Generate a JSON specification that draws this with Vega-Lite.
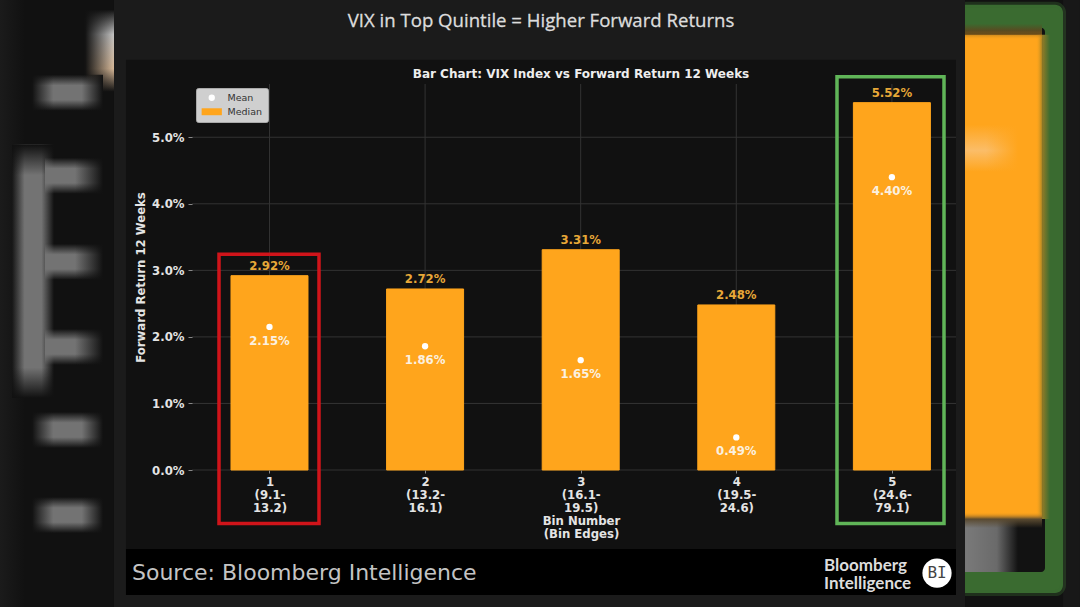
{
  "$schema": "https://vega.github.io/schema/vega-lite/v6.json",
  "autosize": {"type": "none"},
  "padding": {"left": 192, "top": 84, "right": 124, "bottom": 137},
  "width": 764,
  "height": 386,
  "background": "#111111",
  "data": {"name": "annotation"},
  "datasets": {
    "annotation": [{"note": "decoration"}],
    "vix": [
      {"bin": 1, "statistic": "Median", "value": 0.0292},
      {"bin": 2, "statistic": "Median", "value": 0.0272},
      {"bin": 3, "statistic": "Median", "value": 0.0331},
      {"bin": 4, "statistic": "Median", "value": 0.0248},
      {"bin": 5, "statistic": "Median", "value": 0.0552},
      {"bin": 1, "statistic": "Mean", "value": 0.0215},
      {"bin": 2, "statistic": "Mean", "value": 0.0186},
      {"bin": 3, "statistic": "Mean", "value": 0.0165},
      {"bin": 4, "statistic": "Mean", "value": 0.0049},
      {"bin": 5, "statistic": "Mean", "value": 0.044}
    ],
    "yticks": [{"tick": 0}, {"tick": 0.01}, {"tick": 0.02}, {"tick": 0.03}, {"tick": 0.04}, {"tick": 0.05}]
  },
  "layer": [
    {
      "mark": {"type": "rect", "color": {"gradient": "linear", "x1": 0, "y1": 0, "x2": 1, "y2": 0, "stops": [{"offset": 0, "color": "#1b1b1b"}, {"offset": 1, "color": "#111111"}]}},
      "encoding": {
        "x": {"datum": -0.732, "scale": {"domain": [0.502, 5.412], "nice": false, "zero": false, "padding": 0}},
        "x2": {"datum": -0.572},
        "y": {"datum": 0.07068, "scale": {"domain": [0, 0.058], "nice": false, "zero": false}},
        "y2": {"datum": -0.0206}
      }
    },
    {
      "mark": {"type": "rect", "color": "#181818"},
      "encoding": {"x": {"datum": 6.0997}, "x2": {"datum": 6.2089}, "y": {"datum": 0.07068}, "y2": {"datum": -0.0206}}
    },
    {
      "mark": {"type": "rect", "color": "#3a6b30", "cornerRadius": 8, "stroke": "#3a6b30", "strokeWidth": 6, "strokeOpacity": 0.35},
      "encoding": {"x": {"datum": 5.3}, "x2": {"datum": 6.0997}, "y": {"datum": 0.06992}, "y2": {"datum": -0.0185}}
    },
    {
      "mark": {"type": "rect", "color": "#121212", "cornerRadius": 4},
      "encoding": {"x": {"datum": 5.3}, "x2": {"datum": 5.984}, "y": {"datum": 0.06647}, "y2": {"datum": -0.01534}}
    },
    {
      "mark": {"type": "rect", "color": "#ffa51c"},
      "encoding": {"x": {"datum": 5.3}, "x2": {"datum": 5.9647}, "y": {"datum": 0.06541}, "y2": {"datum": -0.00737}}
    },
    {
      "mark": {"type": "rect", "color": {"gradient": "linear", "x1": 0, "y1": 0, "x2": 0, "y2": 1, "stops": [{"offset": 0, "color": "rgba(251,189,104,0)"}, {"offset": 0.55, "color": "#fbbd68"}, {"offset": 1, "color": "rgba(251,189,104,0)"}]}},
      "encoding": {"x": {"datum": 5.4699}, "x2": {"datum": 5.8105}, "y": {"datum": 0.05188}, "y2": {"datum": 0.04481}}
    },
    {
      "mark": {"type": "rect", "color": {"gradient": "linear", "x1": 0, "y1": 0, "x2": 1, "y2": 0, "stops": [{"offset": 0.4, "color": "rgba(255,165,28,0)"}, {"offset": 1, "color": "#ffa51c"}]}},
      "encoding": {"x": {"datum": 5.4699}, "x2": {"datum": 5.8105}, "y": {"datum": 0.05188}, "y2": {"datum": 0.04481}}
    },
    {
      "mark": {"type": "rect", "color": {"gradient": "linear", "x1": 0, "y1": 0, "x2": 1, "y2": 0, "stops": [{"offset": 0, "color": "#7a7a7a"}, {"offset": 0.6, "color": "#6a6a6a"}, {"offset": 1, "color": "#121212"}]}},
      "encoding": {"x": {"datum": 5.4699}, "x2": {"datum": 5.8105}, "y": {"datum": -0.00737}, "y2": {"datum": -0.01534}}
    },
    {
      "mark": {"type": "rect", "color": {"gradient": "linear", "x1": 0, "y1": 0, "x2": 1, "y2": 0, "stops": [{"offset": 0, "color": "rgba(255,165,28,0)"}, {"offset": 0.5, "color": "#8a7a28"}, {"offset": 1, "color": "#3a6b30"}]}},
      "encoding": {"x": {"datum": 5.9262}, "x2": {"datum": 6.0161}, "y": {"datum": 0.06541}, "y2": {"datum": -0.00737}}
    },
    {
      "mark": {"type": "rect", "color": {"gradient": "linear", "x1": 0, "y1": 0, "x2": 0, "y2": 1, "stops": [{"offset": 0, "color": "#3a6b30"}, {"offset": 0.45, "color": "#5a4a20"}, {"offset": 1, "color": "rgba(255,165,28,0)"}]}},
      "encoding": {"x": {"datum": 5.4699}, "x2": {"datum": 5.9647}, "y": {"datum": 0.06707}, "y2": {"datum": 0.06466}}
    },
    {
      "mark": {"type": "rect", "color": {"gradient": "linear", "x1": 0, "y1": 0, "x2": 0, "y2": 1, "stops": [{"offset": 0, "color": "rgba(255,165,28,0)"}, {"offset": 0.44, "color": "#5a4a30"}, {"offset": 1, "color": "rgba(90,74,48,0)"}]}},
      "encoding": {"x": {"datum": 5.4699}, "x2": {"datum": 5.9647}, "y": {"datum": -0.00632}, "y2": {"datum": -0.00872}}
    },
    {
      "mark": {"type": "rect", "color": {"gradient": "linear", "x1": 0, "y1": 0, "x2": 0, "y2": 1, "stops": [{"offset": 0, "color": "#111111"}, {"offset": 0.3, "color": "#c4c4c4"}, {"offset": 0.72, "color": "#d8b998"}, {"offset": 1, "color": "#111111"}]}},
      "encoding": {"x": {"datum": -0.1857}, "x2": {"datum": 0.1871}, "y": {"datum": 0.06917}, "y2": {"datum": 0.05684}}
    },
    {
      "mark": {"type": "rect", "color": {"gradient": "linear", "x1": 0, "y1": 0, "x2": 1, "y2": 0, "stops": [{"offset": 0, "color": "#111111"}, {"offset": 0.5, "color": "rgba(17,17,17,0)"}]}},
      "encoding": {"x": {"datum": -0.1857}, "x2": {"datum": 0.1871}, "y": {"datum": 0.06917}, "y2": {"datum": 0.05684}}
    },
    {
      "mark": {"type": "rect", "color": {"gradient": "linear", "x1": 0, "y1": 0, "x2": 1, "y2": 0, "stops": [{"offset": 0, "color": "rgba(115,115,115,0)"}, {"offset": 0.3, "color": "#737373"}, {"offset": 0.7, "color": "#737373"}, {"offset": 1, "color": "rgba(115,115,115,0)"}]}},
      "encoding": {"x": {"datum": -0.6548}, "x2": {"datum": -0.3849}, "y": {"datum": 0.04887}, "y2": {"datum": 0.01083}}
    },
    {
      "mark": {"type": "rect", "color": {"gradient": "linear", "x1": 0, "y1": 0, "x2": 0, "y2": 1, "stops": [{"offset": 0, "color": "#111111"}, {"offset": 0.12, "color": "rgba(17,17,17,0)"}, {"offset": 0.88, "color": "rgba(17,17,17,0)"}, {"offset": 1, "color": "#111111"}]}},
      "encoding": {"x": {"datum": -0.6548}, "x2": {"datum": -0.3849}, "y": {"datum": 0.04887}, "y2": {"datum": 0.01083}}
    },
    {
      "mark": {"type": "rect", "color": {"gradient": "linear", "x1": 0, "y1": 0, "x2": 0, "y2": 1, "stops": [{"offset": 0, "color": "rgba(115,115,115,0)"}, {"offset": 0.3, "color": "#737373"}, {"offset": 0.7, "color": "#737373"}, {"offset": 1, "color": "rgba(115,115,115,0)"}]}},
      "encoding": {"x": {"datum": -0.5263}, "x2": {"datum": -0.07}, "y": {"datum": 0.0594}, "y2": {"datum": 0.05398}}
    },
    {
      "mark": {"type": "rect", "color": {"gradient": "linear", "x1": 0, "y1": 0, "x2": 1, "y2": 0, "stops": [{"offset": 0, "color": "#111111"}, {"offset": 0.3, "color": "rgba(17,17,17,0)"}, {"offset": 0.7, "color": "rgba(17,17,17,0)"}, {"offset": 1, "color": "#111111"}]}},
      "encoding": {"x": {"datum": -0.5263}, "x2": {"datum": -0.07}, "y": {"datum": 0.0594}, "y2": {"datum": 0.05398}}
    },
    {
      "mark": {"type": "rect", "color": {"gradient": "linear", "x1": 0, "y1": 0, "x2": 0, "y2": 1, "stops": [{"offset": 0, "color": "rgba(115,115,115,0)"}, {"offset": 0.3, "color": "#737373"}, {"offset": 0.7, "color": "#737373"}, {"offset": 1, "color": "rgba(115,115,115,0)"}]}},
      "encoding": {"x": {"datum": -0.4427}, "x2": {"datum": -0.07}, "y": {"datum": 0.04692}, "y2": {"datum": 0.0415}}
    },
    {
      "mark": {"type": "rect", "color": {"gradient": "linear", "x1": 0, "y1": 0, "x2": 1, "y2": 0, "stops": [{"offset": 0, "color": "rgba(17,17,17,0)"}, {"offset": 1, "color": "#111111"}]}},
      "encoding": {"x": {"datum": -0.2499}, "x2": {"datum": -0.07}, "y": {"datum": 0.04692}, "y2": {"datum": 0.0415}}
    },
    {
      "mark": {"type": "rect", "color": {"gradient": "linear", "x1": 0, "y1": 0, "x2": 0, "y2": 1, "stops": [{"offset": 0, "color": "rgba(115,115,115,0)"}, {"offset": 0.3, "color": "#737373"}, {"offset": 0.7, "color": "#737373"}, {"offset": 1, "color": "rgba(115,115,115,0)"}]}},
      "encoding": {"x": {"datum": -0.4427}, "x2": {"datum": -0.07}, "y": {"datum": 0.03398}, "y2": {"datum": 0.02857}}
    },
    {
      "mark": {"type": "rect", "color": {"gradient": "linear", "x1": 0, "y1": 0, "x2": 1, "y2": 0, "stops": [{"offset": 0, "color": "rgba(17,17,17,0)"}, {"offset": 1, "color": "#111111"}]}},
      "encoding": {"x": {"datum": -0.2499}, "x2": {"datum": -0.07}, "y": {"datum": 0.03398}, "y2": {"datum": 0.02857}}
    },
    {
      "mark": {"type": "rect", "color": {"gradient": "linear", "x1": 0, "y1": 0, "x2": 0, "y2": 1, "stops": [{"offset": 0, "color": "rgba(115,115,115,0)"}, {"offset": 0.3, "color": "#737373"}, {"offset": 0.7, "color": "#737373"}, {"offset": 1, "color": "rgba(115,115,115,0)"}]}},
      "encoding": {"x": {"datum": -0.4427}, "x2": {"datum": -0.07}, "y": {"datum": 0.0212}, "y2": {"datum": 0.01579}}
    },
    {
      "mark": {"type": "rect", "color": {"gradient": "linear", "x1": 0, "y1": 0, "x2": 1, "y2": 0, "stops": [{"offset": 0, "color": "rgba(17,17,17,0)"}, {"offset": 1, "color": "#111111"}]}},
      "encoding": {"x": {"datum": -0.2499}, "x2": {"datum": -0.07}, "y": {"datum": 0.0212}, "y2": {"datum": 0.01579}}
    },
    {
      "mark": {"type": "rect", "color": {"gradient": "linear", "x1": 0, "y1": 0, "x2": 0, "y2": 1, "stops": [{"offset": 0, "color": "rgba(115,115,115,0)"}, {"offset": 0.3, "color": "#737373"}, {"offset": 0.7, "color": "#737373"}, {"offset": 1, "color": "rgba(115,115,115,0)"}]}},
      "encoding": {"x": {"datum": -0.5263}, "x2": {"datum": -0.07}, "y": {"datum": 0.00872}, "y2": {"datum": 0.00331}}
    },
    {
      "mark": {"type": "rect", "color": {"gradient": "linear", "x1": 0, "y1": 0, "x2": 1, "y2": 0, "stops": [{"offset": 0, "color": "#111111"}, {"offset": 0.3, "color": "rgba(17,17,17,0)"}, {"offset": 0.7, "color": "rgba(17,17,17,0)"}, {"offset": 1, "color": "#111111"}]}},
      "encoding": {"x": {"datum": -0.5263}, "x2": {"datum": -0.07}, "y": {"datum": 0.00872}, "y2": {"datum": 0.00331}}
    },
    {
      "mark": {"type": "rect", "color": {"gradient": "linear", "x1": 0, "y1": 0, "x2": 0, "y2": 1, "stops": [{"offset": 0, "color": "rgba(115,115,115,0)"}, {"offset": 0.3, "color": "#737373"}, {"offset": 0.7, "color": "#737373"}, {"offset": 1, "color": "rgba(115,115,115,0)"}]}},
      "encoding": {"x": {"datum": -0.5263}, "x2": {"datum": -0.07}, "y": {"datum": -0.00406}, "y2": {"datum": -0.00947}}
    },
    {
      "mark": {"type": "rect", "color": {"gradient": "linear", "x1": 0, "y1": 0, "x2": 1, "y2": 0, "stops": [{"offset": 0, "color": "#111111"}, {"offset": 0.3, "color": "rgba(17,17,17,0)"}, {"offset": 0.7, "color": "rgba(17,17,17,0)"}, {"offset": 1, "color": "#111111"}]}},
      "encoding": {"x": {"datum": -0.5263}, "x2": {"datum": -0.07}, "y": {"datum": -0.00406}, "y2": {"datum": -0.00947}}
    },
    {
      "mark": {"type": "rect", "color": "#1b1b1b"},
      "encoding": {"x": {"datum": 0.0007}, "x2": {"datum": 5.4699}, "y": {"datum": 0.07068}, "y2": {"datum": -0.0206}}
    },
    {
      "mark": {"type": "rect", "color": "#111111"},
      "encoding": {"x": {"datum": 0.0778}, "x2": {"datum": 5.412}, "y": {"datum": 0.06165}, "y2": {"datum": -0.0188}}
    },
    {
      "mark": {"type": "rect", "color": "#000000"},
      "encoding": {"x": {"datum": 0.0778}, "x2": {"datum": 5.412}, "y": {"datum": -0.01188}, "y2": {"datum": -0.0188}}
    },
    {
      "data": {"name": "vix"},
      "transform": [{"filter": "datum.statistic == 'Median'"}],
      "mark": {"type": "rule", "color": "#333333", "strokeWidth": 1},
      "encoding": {"x": {"field": "bin", "type": "quantitative"}}
    },
    {
      "data": {"name": "yticks"},
      "mark": {"type": "rule", "color": "#333333", "strokeWidth": 1},
      "encoding": {"y": {"field": "tick", "type": "quantitative"}}
    },
    {
      "data": {"name": "vix"},
      "transform": [{"filter": "datum.statistic == 'Median'"}],
      "mark": {"type": "bar", "size": 77, "orient": "vertical", "stroke": "#ffa51c", "strokeWidth": 1},
      "encoding": {
        "x": {
          "field": "bin",
          "type": "quantitative",
          "scale": {"domain": [0.502, 5.412], "nice": false, "zero": false, "padding": 0},
          "axis": {
            "values": [1, 2, 3, 4, 5],
            "zindex": 1,
            "grid": false,
            "domain": false,
            "tickSize": 3,
            "tickColor": "#888888",
            "labelFont": "DejaVu Sans",
            "labelFontSize": 11.7,
            "labelFontWeight": "bold",
            "labelColor": "#e4e4e4",
            "labelLineHeight": 13,
            "labelPadding": 3,
            "labelFlush": false,
            "labelOverlap": false,
            "labelExpr": "datum.value == 1 ? ['1', '(9.1-', '13.2)'] : datum.value == 2 ? ['2', '(13.2-', '16.1)'] : datum.value == 3 ? ['3', '(16.1-', '19.5)'] : datum.value == 4 ? ['4', '(19.5-', '24.6)'] : ['5', '(24.6-', '79.1)']",
            "title": ["Bin Number", "(Bin Edges)"],
            "titleFont": "DejaVu Sans",
            "titleFontSize": 11.7,
            "titleFontWeight": "bold",
            "titleColor": "#e4e4e4",
            "titleX": 389,
            "titleY": 45,
            "titleLineHeight": 13
          }
        },
        "y": {
          "field": "value",
          "type": "quantitative",
          "stack": null,
          "axis": {
            "values": [0, 0.01, 0.02, 0.03, 0.04, 0.05],
            "format": ".1%",
            "zindex": 1,
            "grid": false,
            "domain": false,
            "tickSize": 4,
            "tickColor": "#888888",
            "labelFont": "DejaVu Sans",
            "labelFontSize": 11.7,
            "labelFontWeight": "bold",
            "labelColor": "#e4e4e4",
            "labelPadding": 4,
            "title": "Forward Return 12 Weeks",
            "titleFont": "DejaVu Sans",
            "titleFontSize": 11.7,
            "titleFontWeight": "bold",
            "titleColor": "#e4e4e4",
            "titleX": -46
          }
        },
        "color": {
          "field": "statistic",
          "type": "nominal",
          "scale": {"domain": ["Mean", "Median"], "range": ["#ffffff", "#ffa51c"]},
          "legend": {
            "title": null,
            "orient": "none",
            "legendX": 4,
            "legendY": 4,
            "fillColor": "#cfcfcf",
            "strokeColor": "#aaaaaa",
            "cornerRadius": 2,
            "padding": 5,
            "labelFont": "DejaVu Sans",
            "labelFontSize": 9.5,
            "labelColor": "#333333",
            "rowPadding": 3,
            "symbolSize": 40,
            "symbolStrokeWidth": 0,
            "symbolOffset": 6,
            "labelOffset": 11
          }
        }
      }
    },
    {
      "data": {"name": "vix"},
      "transform": [{"filter": "datum.statistic == 'Median'"}],
      "mark": {"type": "text", "font": "DejaVu Sans", "fontSize": 11.7, "fontWeight": "bold", "color": "#e8a838", "baseline": "bottom", "dy": -4},
      "encoding": {
        "x": {"field": "bin", "type": "quantitative"},
        "y": {"field": "value", "type": "quantitative"},
        "text": {"field": "value", "type": "quantitative", "format": ".2%"}
      }
    },
    {
      "data": {"name": "vix"},
      "transform": [{"filter": "datum.statistic == 'Mean'"}],
      "mark": {"type": "point", "filled": true, "opacity": 1, "size": 40},
      "encoding": {
        "x": {"field": "bin", "type": "quantitative"},
        "y": {"field": "value", "type": "quantitative"},
        "color": {"field": "statistic", "type": "nominal"},
        "shape": {
          "field": "statistic",
          "type": "nominal",
          "scale": {"domain": ["Mean", "Median"], "range": ["circle", "M-3.2,-1.1H3.2V1.1H-3.2Z"]}
        }
      }
    },
    {
      "data": {"name": "vix"},
      "transform": [{"filter": "datum.statistic == 'Mean'"}],
      "mark": {"type": "text", "font": "DejaVu Sans", "fontSize": 11.7, "fontWeight": "bold", "color": "#fbf1e0", "dy": 14},
      "encoding": {
        "x": {"field": "bin", "type": "quantitative"},
        "y": {"field": "value", "type": "quantitative"},
        "text": {"field": "value", "type": "quantitative", "format": ".2%"}
      }
    },
    {
      "mark": {"type": "rect", "fill": null, "stroke": "#d0141a", "strokeWidth": 3.5},
      "encoding": {"x": {"datum": 0.6755}, "x2": {"datum": 1.3182}, "y": {"datum": 0.03241}, "y2": {"datum": -0.00805}}
    },
    {
      "mark": {"type": "rect", "fill": null, "stroke": "#60b558", "strokeWidth": 3.5},
      "encoding": {"x": {"datum": 4.6472}, "x2": {"datum": 5.3349}, "y": {"datum": 0.0591}, "y2": {"datum": -0.00805}}
    },
    {
      "mark": {"type": "text", "text": "Bar Chart: VIX Index vs Forward Return 12 Weeks", "font": "DejaVu Sans", "fontSize": 12, "fontWeight": "bold", "color": "#eeeeee"},
      "encoding": {"x": {"datum": 3.002}, "y": {"datum": 0.05955}}
    },
    {
      "mark": {"type": "text", "text": "VIX in Top Quintile = Higher Forward Returns", "font": "Open Sans", "fontSize": 18.6, "color": "#dddddd", "stroke": "#dddddd", "strokeWidth": 0.3},
      "encoding": {"x": {"datum": 2.7449}, "y": {"datum": 0.06752}}
    },
    {
      "mark": {"type": "text", "text": "Source: Bloomberg Intelligence", "font": "DejaVu Sans", "fontSize": 22, "color": "#c4c4c4", "align": "left"},
      "encoding": {"x": {"datum": 0.1164}, "y": {"datum": -0.01549}}
    },
    {
      "mark": {"type": "text", "text": "Bloomberg\nIntelligence", "lineBreak": "\n", "lineHeight": 18, "font": "Lato", "fontSize": 17, "fontWeight": "bold", "color": "#dddddd", "align": "left"},
      "encoding": {"x": {"datum": 4.5637}, "y": {"datum": -0.01444}}
    },
    {
      "mark": {"type": "point", "shape": "circle", "filled": true, "color": "#ffffff", "opacity": 1, "size": 855},
      "encoding": {"x": {"datum": 5.2899}, "y": {"datum": -0.01549}}
    },
    {
      "mark": {"type": "text", "text": "BI", "font": "DejaVu Sans Mono", "fontSize": 16, "color": "#444444"},
      "encoding": {"x": {"datum": 5.2899}, "y": {"datum": -0.01549}}
    }
  ],
  "config": {"view": {"stroke": null}}
}
